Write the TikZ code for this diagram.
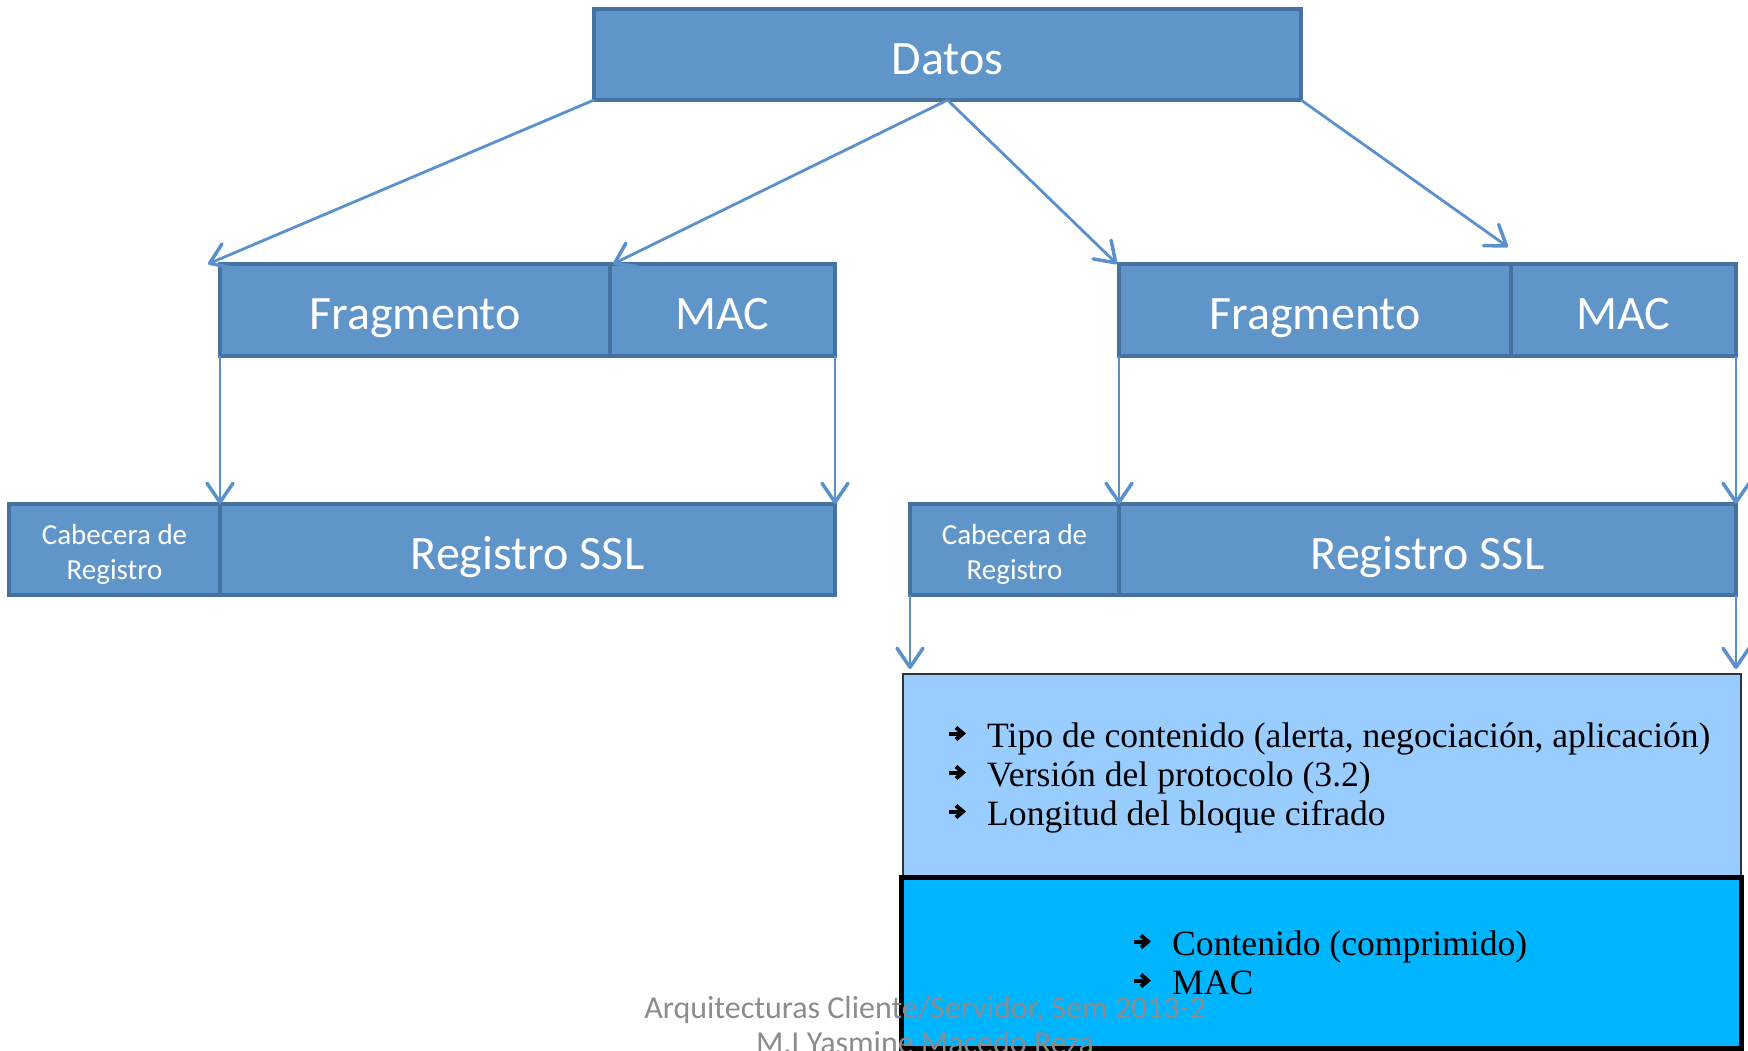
\documentclass[tikz,border=0pt]{standalone}
\usepackage{fontspec}
\setmainfont{Carlito}
\newfontfamily\serifface{Liberation Serif}
\usetikzlibrary{arrows.meta}
\definecolor{boxfill}{HTML}{5F95C8}
\definecolor{boxline}{HTML}{45729F}
\definecolor{arrowc}{HTML}{5A90CC}
\definecolor{lightb}{HTML}{99CCFF}
\definecolor{cyanb}{HTML}{00B5FF}
\definecolor{footc}{HTML}{8C8C8C}
\tikzset{
 blk/.style={draw=boxline, fill=boxfill, line width=3.5pt, inner sep=0pt, outer sep=0pt, anchor=north west, text=white, font=\fontsize{48}{58}\selectfont, text height=42pt, text depth=3pt},
 blksmall/.style={draw=boxline, fill=boxfill, line width=3.5pt, inner sep=0pt, outer sep=0pt, anchor=north west, text=white, font=\fontsize{29}{35}\selectfont},
 conn/.style={draw=arrowc, line width=2.8pt, -{Straight Barb[length=19pt,width=26pt,line width=3.5pt,round]}},
 bul/.style={anchor=base west, inner sep=0pt, font=\serifface\fontsize{35.6}{39}\selectfont},
 bularr/.style={draw=black, line width=4pt, -{Straight Barb[length=7pt,width=12pt,line width=4pt]}},
 foottext/.style={anchor=base, inner sep=0pt, text=footc, font=\fontsize{32}{38}\selectfont},
}
\newcommand{\twolines}[2]{\raisebox{-5pt}[\height][\depth]{\begin{tabular}{@{}c@{}}#1\\#2\end{tabular}}}
\begin{document}
\begin{tikzpicture}[x=1pt,y=-1pt]
\useasboundingbox (0,0) rectangle (1748,1050);
% top
\node[blk, minimum width=707pt, minimum height=91pt] (datos) at (594,9) {Datos};
% fragments
\node[blk, minimum width=390pt, minimum height=92pt] (frag1) at (220,264) {Fragmento};
\node[blk, minimum width=225pt, minimum height=92pt] (mac1) at (610,264) {MAC};
\node[blk, minimum width=392pt, minimum height=92pt] (frag2) at (1119,264) {Fragmento};
\node[blk, minimum width=225pt, minimum height=92pt] (mac2) at (1511,264) {MAC};
% records
\node[blksmall, minimum width=211pt, minimum height=91pt] (cab1) at (9,504) {\twolines{Cabecera de}{Registro}};
\node[blk, minimum width=615pt, minimum height=91pt] (reg1) at (220,504) {Registro SSL};
\node[blksmall, minimum width=209pt, minimum height=91pt] (cab2) at (910,504) {\twolines{Cabecera de}{Registro}};
\node[blk, minimum width=617pt, minimum height=91pt] (reg2) at (1119,504) {Registro SSL};
% detail boxes
\node[draw=black!80, fill=lightb, line width=1.5pt, inner sep=0pt, outer sep=0pt, anchor=north west, minimum width=838pt, minimum height=203pt] (lb) at (903,674) {};
\node[draw=black, fill=cyanb, line width=5pt, inner sep=0pt, outer sep=0pt, anchor=north west, minimum width=840pt, minimum height=171pt] (cy) at (901,877) {};
% connectors
\draw[conn] (datos.south west) -- ([xshift=-12pt]frag1.north west);
\draw[conn] (datos.south) -- ([xshift=3pt]mac1.north west);
\draw[conn] (datos.south) -- ([xshift=-2pt]frag2.north west);
\draw[conn] (datos.south east) -- ([xshift=-3pt,yshift=17pt]mac2.north west);
\draw[conn] (frag1.south west) -- (reg1.north west);
\draw[conn] (mac1.south east) -- (reg1.north east);
\draw[conn] (frag2.south west) -- (reg2.north west);
\draw[conn] (mac2.south east) -- (reg2.north east);
\draw[conn, shorten >=5pt] (cab2.south west) -- (cab2.south west |- lb.north);
\draw[conn, shorten >=5pt] (reg2.south east) -- (reg2.south east |- lb.north);
% bullets
\node[bul] (b1) at (987,747) {Tipo de contenido (alerta, negociación, aplicación)};
\node[bul] (b2) at (987,786) {Versión del protocolo (3.2)};
\node[bul] (b3) at (987,825) {Longitud del bloque cifrado};
\node[bul] (c1) at (1172,955) {Contenido (comprimido)};
\node[bul] (c2) at (1172,994) {MAC};
\foreach \n in {b1,b2,b3,c1,c2}
  \draw[bularr] ([xshift=-38pt,yshift=13.5pt]\n.base west) -- ++(17,0);
% footer
\node[foottext] (f1) at (925,1018) {Arquitecturas Cliente/Servidor, Sem 2013-2};
\node[foottext] (f2) at (925,1053) {M.I Yasmine Macedo Reza};
\end{tikzpicture}
\end{document}
